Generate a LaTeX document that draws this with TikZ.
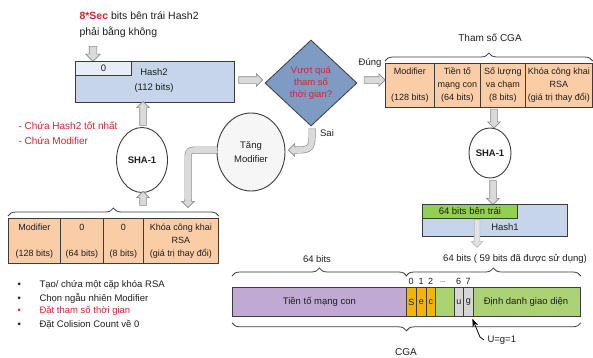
\documentclass[tikz,border=0pt]{standalone}
\usepackage{fontspec}
\setmainfont{Liberation Sans}
\usetikzlibrary{shapes.geometric,shapes.arrows,decorations.pathreplacing,calc,arrows.meta}
\definecolor{hblue}{HTML}{C6D5E9}
\definecolor{zbox}{HTML}{E8EEF6}
\definecolor{dblue}{HTML}{7D9BC3}
\definecolor{peach}{HTML}{FACDA6}
\definecolor{lav}{HTML}{C0AAD4}
\definecolor{lgreen}{HTML}{ABD373}
\definecolor{bgreen}{HTML}{92D050}
\definecolor{amber}{HTML}{F5B400}
\definecolor{ugray}{HTML}{D6D6D6}
\definecolor{redtxt}{HTML}{D8232F}
\definecolor{aedge}{HTML}{8A8A8A}
\definecolor{afill}{HTML}{DADADA}
\definecolor{edge}{HTML}{3C3C3C}
\definecolor{txt}{HTML}{1E1E1E}
\begin{document}
\begin{tikzpicture}[x=1pt,y=-1pt,
  every node/.style={font=\fontsize{9.5}{11.5}\selectfont, text=txt},
  barrow/.style={single arrow, draw=aedge, fill=afill, line width=0.6pt, inner xsep=0pt, inner ysep=3pt,
    minimum width=12pt, single arrow head extend=3pt, single arrow head indent=0pt},
  pipeo/.style={line width=7pt, draw=aedge},
  pipei/.style={line width=5.8pt, draw=afill},
  box/.style={draw=edge, line width=0.8pt, inner sep=0pt},
  cell/.style={box, fill=peach, align=center, font=\fontsize{9}{13}\selectfont, anchor=north west},
  bitbox/.style={box, minimum height=29pt, anchor=north west, font=\fontsize{9}{11}\selectfont},
  bubble/.style={ellipse, draw=edge, line width=0.9pt, fill=white, inner sep=0pt, align=center,
    font=\fontsize{9.5}{14}\selectfont\bfseries},
  brc/.style={decorate, decoration={brace, amplitude=8pt}, draw=edge, line width=0.8pt},
]
\useasboundingbox[fill=white] (0,0) rectangle (593,357);

% ---------- title and Hash2 ----------
\node[anchor=west, align=left, font=\fontsize{10.5}{16}\selectfont] (title) at (76,25)
  {\textcolor{redtxt}{\bfseries 8*Sec} bits bên trái Hash2\\phải bằng không};
\node[barrow, rotate=-90, minimum height=15pt, inner ysep=3.5pt, minimum width=14pt, single arrow head extend=3.5pt] (adown) at (93,52) {};
\node[box, fill=hblue, minimum width=159pt, minimum height=41pt, anchor=north west] (hash2) at (75,61) {};
\node[box, fill=zbox, minimum width=56pt, minimum height=14pt, anchor=north west] (zero) at (75,61) {0};
\node[align=center, font=\fontsize{9.5}{15}\selectfont] (h2t) at (154,81) {Hash2\\(112 bits)};

% ---------- decision ----------
\node[barrow, minimum height=24pt] (a1) at (249,80) {};
\node[diamond, draw=edge, line width=0.8pt, fill=dblue, minimum width=92pt, minimum height=86pt,
  inner sep=0pt, align=center, text=redtxt, font=\fontsize{9.5}{12}\selectfont] (dia) at (311,83)
  {Vượt quá\\tham số\\thời gian?};
\node[barrow, minimum height=21pt] (a2) at (373,80) {};
\node (dung) at (370,63) {Đúng};

% ---------- CGA parameters ----------
\node[cell, minimum width=49pt, minimum height=44pt] (c1) at (385,63) {Modifier\\\strut\\(128 bits)};
\node[cell, minimum width=46pt, minimum height=44pt] (c2) at (434,63) {Tiền tố\\mạng con\\(64 bits)};
\node[cell, minimum width=45pt, minimum height=44pt] (c3) at (480,63) {Số lượng\\va chạm\\(8 bits)};
\node[cell, minimum width=67pt, minimum height=44pt] (c4) at (525,63) {Khóa công khai\\RSA\\(giá trị thay đổi)};
\draw[brc] ($(c1.north west)+(0,-2)$) -- ($(c4.north east)+(0,-2)$);
\node[font=\fontsize{10}{12}\selectfont] (cgat) at (490,38) {Tham số CGA};

\node[barrow, rotate=-90, minimum height=19pt] (a3) at (494,117) {};
\node[bubble, minimum width=42pt, minimum height=50pt] (shaR) at (490,153) {SHA-1};
\node[barrow, rotate=-90, minimum height=24pt] (a4) at (493,191) {};

% ---------- Hash1 ----------
\node[box, fill=hblue, minimum width=145pt, minimum height=32pt, anchor=north west] (hash1) at (422,204) {};
\node[box, fill=bgreen, minimum width=95pt, minimum height=14pt, anchor=north west] (left64) at (422,204) {64 bits bên trái};
\node (h1t) at (505,227) {Hash1};
\node[barrow, draw=afill!85!black, fill=afill!75, rotate=-90, minimum height=28pt, inner ysep=2.5pt, minimum width=11pt] (a5) at (477,232) {};

% ---------- CGA address ----------
\node (t64a) at (317,259) {64 bits};
\node (t64b) at (515,259) {64 bits ( 59 bits đã được sử dụng)};
\node[box, fill=lav, minimum width=174pt, minimum height=29pt, anchor=north west] (pref) at (232,287) {Tiền tố mạng con};
\node[box, fill=lgreen, minimum width=174pt, minimum height=29pt, anchor=north west] (iid) at (406,287) {};
\node (iidt) at (526,302) {Định danh giao diện};
\node[bitbox, fill=amber, minimum width=10pt] (bS) at (406,287) {S};
\node[bitbox, fill=amber, minimum width=10pt] (be) at (416,287) {e};
\node[bitbox, fill=amber, minimum width=9pt] (bc) at (426,287) {c};
\node[bitbox, fill=ugray, minimum width=9pt] (bu) at (454,287) {u};
\node[bitbox, fill=ugray, minimum width=10pt] (bg) at (463,287) {g};
\node[font=\fontsize{9}{10}\selectfont] (n0) at (411,281) {0};
\node[font=\fontsize{9}{10}\selectfont] (n1) at (421,281) {1};
\node[font=\fontsize{9}{10}\selectfont] (n2) at (430.5,281) {2};
\node[font=\fontsize{7}{8}\selectfont] (nd) at (443,282) {...};
\node[font=\fontsize{9}{10}\selectfont] (n6) at (458.5,281) {6};
\node[font=\fontsize{9}{10}\selectfont] (n7) at (468,281) {7};
\draw[brc] ($(pref.north west)+(0,-11)$) -- ($(pref.north east)+(0,-11)$);
\draw[brc] ($(iid.north west)+(0,-11)$) -- ($(iid.north east)+(0,-11)$);
\draw[brc] ($(iid.south east)+(0,6)$) -- ($(pref.south west)+(0,6)$);
\node[font=\fontsize{10}{12}\selectfont] (cga) at (406,352) {CGA};
\node[anchor=west] (ulab) at (484,340) {U=g=1};
\coordinate (ubend) at (480,337);
\draw[line width=0.8pt, -{Stealth[length=8pt,width=6pt]}] (ulab.west) -- (ubend) -- ($(bg.south)+(4,2)$);

% ---------- left side ----------
\node[anchor=west, text=redtxt, font=\fontsize{10}{12}\selectfont] (r1) at (15,126) {- Chứa Hash2 tốt nhất};
\node[anchor=west, text=redtxt, font=\fontsize{10}{12}\selectfont] (r2) at (15,141) {- Chứa Modifier};
\node[barrow, rotate=90, minimum height=24pt] (a6) at (143,115) {};
\node[bubble, minimum width=51pt, minimum height=65pt] (shaL) at (142,160) {SHA-1};
\node[barrow, rotate=90, minimum height=14pt] (a7) at (143,200) {};

\node[cell, minimum width=52pt, minimum height=45pt] (d1) at (8,218) {Modifier\\\strut\\(128 bits)};
\node[cell, minimum width=43pt, minimum height=45pt] (d2) at (60,218) {0\\\strut\\(64 bits)};
\node[cell, minimum width=40pt, minimum height=45pt] (d3) at (103,218) {0\\\strut\\(8 bits)};
\node[cell, minimum width=75pt, minimum height=45pt] (d4) at (143,218) {Khóa công khai\\RSA\\(giá trị thay đổi)};
\draw[brc] ($(d1.north west)+(0,-2)$) -- ($(d4.north east)+(0,-2)$);

\node[anchor=west] (b1) at (14,285) {\makebox[22pt][l]{•}Tạo/ chứa một cặp khóa RSA};
\node[anchor=west] (b2) at (14,298) {\makebox[22pt][l]{•}Chọn ngẫu nhiên Modifier};
\node[anchor=west, text=redtxt] (b3) at (14,311) {\makebox[22pt][l]{•}Đặt tham số thời gian};
\node[anchor=west] (b4) at (14,325) {\makebox[22pt][l]{•}Đặt Colision Count về 0};

% ---------- Tang Modifier loop ----------
\node[bubble, fill=gray!7, font=\fontsize{9.5}{14}\selectfont, minimum width=68pt, minimum height=78pt] (tang) at (251,152) {Tăng\\Modifier};
\node (sai) at (327,133) {Sai};
\node[barrow, rotate=180, minimum height=8pt] (hs) at (294,150) {};
\coordinate (s0) at ($(dia.south)+(1,2)$);
\draw[pipeo] (s0) -- (312,138) .. controls (312,150) and (306,150) .. (296,150);
\draw[pipei] (s0) -- (312,138) .. controls (312,150) and (306,150) .. (296,150);
\node[barrow, rotate=-90, minimum height=8pt] (ht) at (188,202) {};
\coordinate (t0) at ($(tang.west)+(0.5,-2)$);
\draw[pipeo] (t0) -- (200,150) .. controls (188,150) .. (188,162) -- (188,200);
\draw[pipei] (t0) -- (200,150) .. controls (188,150) .. (188,162) -- (188,200);
\end{tikzpicture}
\end{document}
